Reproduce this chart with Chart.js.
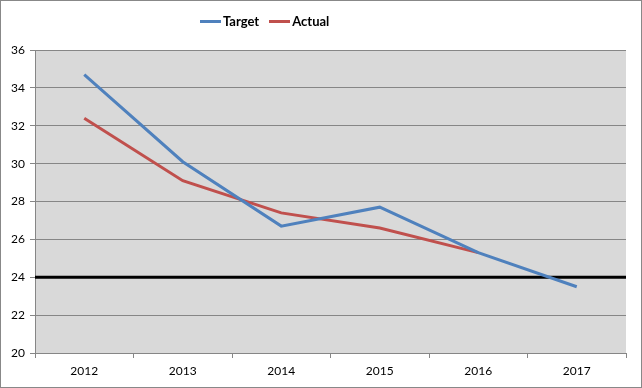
<!DOCTYPE html>
<html>
<head>
<meta charset="utf-8">
<script src="https://cdn.jsdelivr.net/npm/chart.js@4/dist/chart.umd.min.js"></script>
<style>
  html, body { margin: 0; padding: 0; background: #fff; }
  #wrap { position: relative; width: 642px; height: 388px; }
  #legend {
    position: absolute; left: 200px; top: 12px;
    display: flex; align-items: center;
    font: bold 13px Lato, sans-serif; color: #000; line-height: 18px;
  }
  #legend .item { display: flex; align-items: center; margin-right: 10px; }
  #legend .swatch { width: 21px; height: 3px; margin-right: 2px; }
</style>
</head>
<body>
<div id="wrap">
  <canvas id="chart"></canvas>
  <div id="legend"></div>
</div>
<script>
const years = ['2012', '2013', '2014', '2015', '2016', '2017'];
const target = [34.7, 30.1, 26.7, 27.7, 25.3, 23.5];
const actual = [32.4, 29.1, 27.4, 26.6, 25.3, null];
const threshold = 24;

// plot background + the black threshold line + outer frame
const decorations = {
  id: 'decorations',
  beforeDraw(chart) {
    const { ctx, chartArea: a } = chart;
    ctx.save();
    ctx.fillStyle = '#d9d9d9';
    ctx.fillRect(a.left, a.top, a.right - a.left, a.bottom - a.top);
    ctx.restore();
  },
  beforeDatasetsDraw(chart) {
    const { ctx, chartArea: a, scales } = chart;
    const y = scales.y.getPixelForValue(threshold);
    ctx.save();
    ctx.strokeStyle = '#000';
    ctx.lineWidth = 3;
    ctx.beginPath();
    ctx.moveTo(a.left, y);
    ctx.lineTo(a.right, y);
    ctx.stroke();
    ctx.restore();
  },
  afterDraw(chart) {
    const { ctx, width, height } = chart;
    ctx.save();
    ctx.strokeStyle = '#888';
    ctx.lineWidth = 1;
    ctx.strokeRect(0.5, 0.5, width - 1, height - 1);
    ctx.restore();
  }
};

const chart = new Chart(document.getElementById('chart'), {
  type: 'line',
  data: {
    labels: years,
    datasets: [
      {
        label: 'Target',
        data: target,
        borderColor: '#4f81bd',
        backgroundColor: '#4f81bd',
        borderWidth: 3,
        pointRadius: 0,
        tension: 0
      },
      {
        label: 'Actual',
        data: actual,
        borderColor: '#c0504d',
        backgroundColor: '#c0504d',
        borderWidth: 3,
        pointRadius: 0,
        tension: 0
      }
    ]
  },
  options: {
    responsive: true,
    maintainAspectRatio: false,
    animation: false,
    layout: { padding: { top: 50, left: 0, right: 16, bottom: 5 } },
    plugins: {
      tooltip: { enabled: false },
      legend: { display: false }
    },
    scales: {
      x: {
        offset: true,
        afterFit(scale) { scale.height = 30; },
        grid: {
          offset: true,
          drawOnChartArea: false,
          drawTicks: true,
          tickLength: 5,
          color: '#868686'
        },
        border: { color: '#868686' },
        ticks: {
          color: '#000',
          padding: 6,
          maxRotation: 0,
          font: { family: 'Lato', size: 12 }
        }
      },
      y: {
        min: 20,
        max: 36,
        afterFit(scale) { scale.width = 35; },
        grid: {
          color: '#868686',
          tickLength: 5
        },
        border: { color: '#868686' },
        ticks: {
          stepSize: 2,
          color: '#000',
          padding: 5,
          font: { family: 'Lato', size: 12 }
        }
      }
    }
  },
  plugins: [decorations]
});

// legend built from the chart's own datasets
const legend = document.getElementById('legend');
chart.data.datasets.forEach(ds => {
  const item = document.createElement('div');
  item.className = 'item';
  const sw = document.createElement('span');
  sw.className = 'swatch';
  sw.style.background = ds.borderColor;
  const txt = document.createElement('span');
  txt.textContent = ds.label;
  item.appendChild(sw);
  item.appendChild(txt);
  legend.appendChild(item);
});
</script>
</body>
</html>
